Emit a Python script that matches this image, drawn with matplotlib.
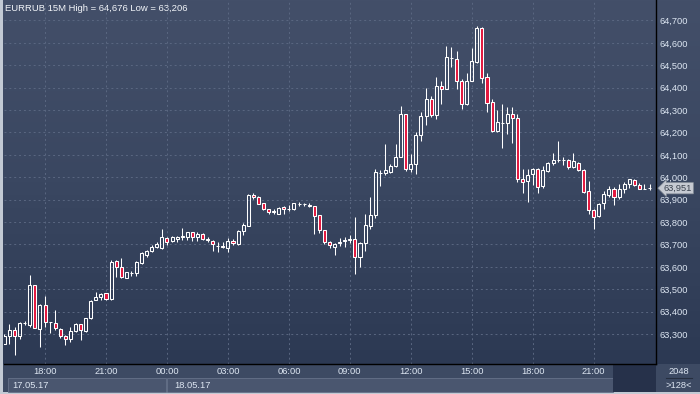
import matplotlib
matplotlib.use('Agg')
import matplotlib.pyplot as plt
import matplotlib.transforms as mtransforms
from matplotlib.patches import Rectangle
from matplotlib.colors import LinearSegmentedColormap
import numpy as np


# EURRUB 15M candles, 17.05.17 16:00 .. 18.05.17 23:45
opens = [63256, 63293, 63317, 63293, 63348, 63340, 63517, 63321, 63428, 63352,
         63348, 63321, 63291, 63276, 63315, 63343, 63314, 63370, 63452, 63467,
         63482, 63455, 63626, 63600, 63551, 63572, 63574, 63615, 63652, 63670,
         63688, 63685, 63727, 63715, 63724, 63733, 63734, 63754, 63734, 63745,
         63722, 63715, 63694, 63691, 63682, 63715, 63700, 63760, 63783, 63920,
         63910, 63883, 63856, 63846, 63838, 63865, 63856, 63857, 63880, 63880,
         63878, 63871, 63831, 63764, 63712, 63690, 63705, 63717, 63720, 63722,
         63645, 63707, 63783, 63830, 64021, 64021, 64024, 64050, 64090, 64284,
         64035, 64061, 64190, 64272, 64350, 64279, 64407, 64395, 64532, 64529,
         64428, 64325, 64429, 64514, 64667, 64447, 64336, 64206, 64244, 64243,
         64281, 64266, 63994, 63983, 64013, 64038, 63960, 64028, 64064, 64076,
         64076, 64076, 64046, 64065, 64034, 63937, 63853, 63827, 63885, 63920,
         63949, 63912, 63949, 63972, 63989, 63967, 63949, 63950]
highs = [63299, 63346, 63333, 63352, 63358, 63563, 63520, 63434, 63470, 63355,
         63406, 63325, 63296, 63333, 63348, 63345, 63373, 63452, 63489, 63485,
         63482, 63632, 63630, 63638, 63578, 63581, 63626, 63667, 63676, 63697,
         63712, 63767, 63731, 63737, 63737, 63772, 63757, 63757, 63754, 63749,
         63734, 63720, 63709, 63709, 63727, 63723, 63764, 63794, 63925, 63931,
         63916, 63886, 63859, 63858, 63868, 63871, 63874, 63887, 63890, 63886,
         63886, 63871, 63831, 63764, 63715, 63705, 63727, 63734, 63741, 63823,
         63711, 63838, 63911, 64035, 64031, 64147, 64058, 64150, 64316, 64284,
         64105, 64202, 64291, 64398, 64361, 64447, 64428, 64584, 64581, 64562,
         64440, 64466, 64578, 64676, 64672, 64466, 64351, 64300, 64325, 64313,
         64313, 64281, 64035, 64038, 64041, 64041, 64050, 64068, 64110, 64160,
         64090, 64083, 64110, 64068, 64038, 63982, 63860, 63885, 63939, 63960,
         63957, 63968, 63979, 63994, 63994, 63976, 63972, 63969]
lows = [63254, 63254, 63206, 63278, 63340, 63333, 63325, 63244, 63330, 63303,
        63318, 63284, 63251, 63266, 63308, 63273, 63308, 63367, 63452, 63450,
        63452, 63452, 63556, 63551, 63548, 63560, 63560, 63612, 63645, 63667,
        63683, 63679, 63697, 63709, 63711, 63720, 63720, 63717, 63717, 63720,
        63711, 63672, 63665, 63685, 63665, 63697, 63697, 63742, 63783, 63905,
        63879, 63853, 63838, 63834, 63835, 63834, 63850, 63853, 63871, 63871,
        63868, 63745, 63749, 63702, 63685, 63652, 63695, 63689, 63707, 63567,
        63600, 63670, 63768, 63820, 63961, 64009, 64021, 64046, 64090, 64030,
        64024, 64016, 64160, 64232, 64269, 64258, 64328, 64395, 64492, 64392,
        64306, 64321, 64429, 64510, 64420, 64291, 64202, 64202, 64130, 64194,
        64153, 63979, 63930, 63890, 63964, 63930, 63954, 64024, 64056, 64068,
        64056, 64038, 64041, 64028, 63930, 63838, 63771, 63823, 63860, 63912,
        63878, 63902, 63930, 63954, 63961, 63946, 63946, 63945]
closes = [63293, 63317, 63293, 63348, 63350, 63517, 63328, 63430, 63352, 63352,
          63325, 63291, 63276, 63314, 63343, 63317, 63370, 63447, 63465, 63479,
          63455, 63623, 63597, 63553, 63575, 63574, 63620, 63660, 63672, 63688,
          63700, 63731, 63712, 63731, 63734, 63736, 63754, 63734, 63745, 63722,
          63718, 63700, 63695, 63690, 63715, 63705, 63760, 63786, 63920, 63910,
          63880, 63856, 63846, 63848, 63861, 63856, 63857, 63883, 63880, 63881,
          63871, 63828, 63764, 63712, 63697, 63704, 63712, 63719, 63724, 63645,
          63707, 63786, 63833, 64022, 64021, 64031, 64050, 64090, 64284, 64035,
          64061, 64190, 64272, 64350, 64279, 64407, 64395, 64536, 64532, 64428,
          64328, 64429, 64517, 64667, 64444, 64333, 64206, 64246, 64244, 64281,
          64266, 63994, 63979, 64012, 64038, 63957, 64031, 64064, 64079, 64076,
          64078, 64046, 64071, 64031, 63934, 63853, 63823, 63882, 63924, 63949,
          63912, 63949, 63972, 63994, 63967, 63949, 63949, 63951]

tick_idx = [8, 20, 32, 44, 56, 68, 80, 92, 104, 116]
tick_labels = ['18:00', '21:00', '00:00', '03:00', '06:00',
               '09:00', '12:00', '15:00', '18:00', '21:00']
price_ticks = list(range(63300, 64701, 100))
date_idx = [0, 32]
date_labels = ['17.05.17', '18.05.17']
title = 'EURRUB 15M High = 64,676 Low = 63,206'

plt.rcParams['font.family'] = ['Liberation Sans', 'DejaVu Sans']

W, H = 700, 394
fig = plt.figure(figsize=(7, 3.94), dpi=100)
fig.patch.set_facecolor('#c3cad4')

# frame / panels in pixel coords
bg = fig.add_axes([0, 0, 1, 1])
bg.set_xlim(0, W)
bg.set_ylim(H, 0)
bg.axis('off')

grad = LinearSegmentedColormap.from_list('bg', ['#434f69', '#3a4761', '#2c3953'])
bg.imshow(np.linspace(0, 1, 256).reshape(-1, 1), cmap=grad, aspect='auto',
          extent=(3, W, 364, 0), zorder=0)
bg.add_patch(Rectangle((3, 364), W - 3, 28, fc='#3d4a63', ec='none', zorder=1))
bg.add_patch(Rectangle((8, 377.5), 158, 14, fc='#4a566f', ec='#66728a', lw=0.6, zorder=2))
bg.add_patch(Rectangle((167, 377.5), 446, 14, fc='#4a566f', ec='#66728a', lw=0.6, zorder=2))
bg.add_patch(Rectangle((613, 365), 43, 27, fc='#26314a', ec='none', zorder=2))
bg.plot([666, 692], [378, 378], color='#262f40', lw=0.8, zorder=3)
bg.text(679, 371, '2048', ha='center', va='center', fontsize=6.7, color='#dde6f2')
bg.text(679, 385, '>128<', ha='center', va='center', fontsize=6.7, color='#dde6f2')
bg.text(5, 8.5, title, ha='left', va='center', fontsize=6.8, color='#f2f5f9', zorder=5)

# candle axes
ax = fig.add_axes([4 / W, (H - 364) / H, 652 / W, 364 / H])
ax.set_facecolor('none')
ax.set_xlim(-0.08, 128.27)
ax.set_ylim(63166, 64791.5)
for s in ['top', 'left']:
    ax.spines[s].set_visible(False)
for s in ['bottom', 'right']:
    ax.spines[s].set_color('black')
    ax.spines[s].set_linewidth(1.0)

ax.set_axisbelow(True)
ax.grid(True, color='#5a6781', linestyle=(0, (2, 3)), linewidth=0.7)

x = np.arange(len(opens))
o = np.array(opens)
h = np.array(highs)
l = np.array(lows)
c = np.array(closes)
top = np.maximum(o, c)
bot = np.minimum(o, c)
up = c >= o

ax.vlines(x, top, h, color='white', lw=0.75, zorder=3)
ax.vlines(x, l, bot, color='white', lw=0.75, zorder=3)
ax.bar(x[up], (top - bot)[up], bottom=bot[up], width=0.6,
       facecolor='none', edgecolor='white', lw=0.75, zorder=4)
ax.bar(x[~up], (top - bot)[~up], bottom=bot[~up], width=0.6,
       facecolor='#e3173e', edgecolor='white', lw=0.75, zorder=4)

ax.yaxis.tick_right()
ax.set_yticks(price_ticks, [f'{p:,}' for p in price_ticks])
ax.set_xticks(tick_idx, tick_labels)
ax.tick_params(axis='y', length=0, pad=2.5, labelsize=6.7, labelcolor='#dde6f2')
ax.tick_params(axis='x', length=0, pad=2.5, labelsize=6.7, labelcolor='#dde6f2')

trans = mtransforms.blended_transform_factory(ax.transData, ax.transAxes)
for d, lab in zip(date_idx, date_labels):
    ax.text(d + 1.5, -0.058, lab, transform=trans, ha='left', va='center',
            fontsize=6.7, color='#dde6f2', clip_on=False)

ptrans = mtransforms.blended_transform_factory(ax.transAxes, ax.transData)
ax.text(1.012, closes[-1], f'{closes[-1]:,}', transform=ptrans, ha='left', va='center',
        fontsize=6.7, color='#39414d', zorder=6,
        bbox=dict(boxstyle='larrow,pad=0.12', fc='#c6cad2', ec='#8a929c', lw=0.5))

fig.savefig('out.png', dpi=100)
